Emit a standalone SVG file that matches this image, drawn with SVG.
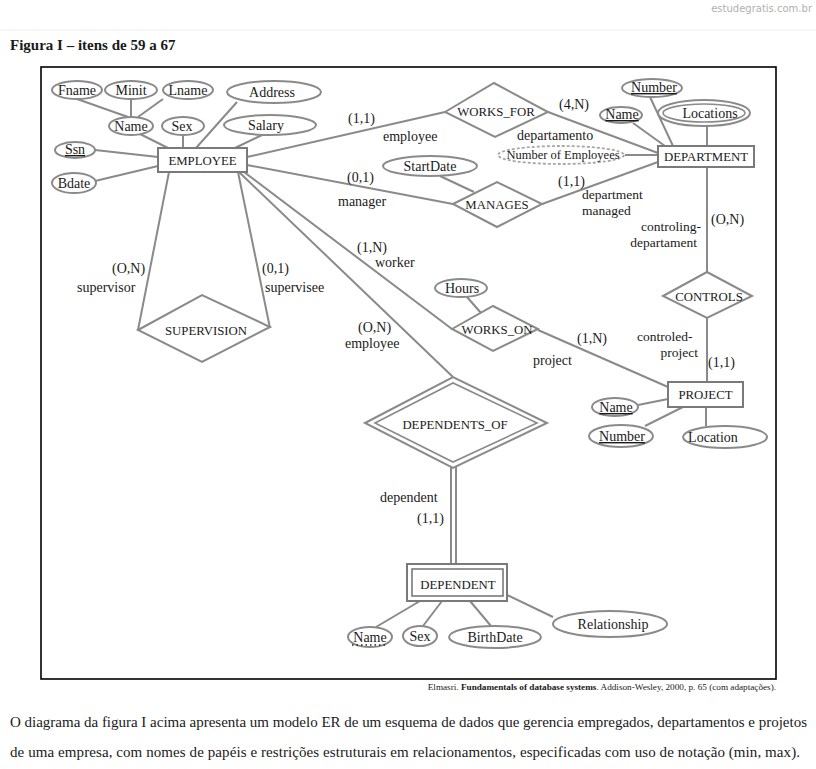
<svg xmlns="http://www.w3.org/2000/svg" width="816" height="769" viewBox="0 0 816 769">
<style>
text{font-family:"Liberation Serif","Times New Roman",serif;fill:#1a1a1a}
.a{font-size:14px;text-anchor:middle}
.e{font-size:12.8px;text-anchor:middle}
.l{font-size:14px}
.s{font-size:13.5px}
.att{fill:#fff;stroke:#8a8a8a;stroke-width:2}
.ent{fill:#fff;stroke:#7a7a7a;stroke-width:2}
.rel{fill:#fff;stroke:#8a8a8a;stroke-width:2}
.c line,.c polyline{stroke:#8a8a8a;stroke-width:2;fill:none}
.u{text-decoration:underline}
</style>
<rect width="816" height="769" fill="#fff"/>
<text x="812" y="12" style="font-family:'DejaVu Sans',sans-serif;font-size:10px;fill:#b0b0b0;text-anchor:end">estudegratis.com.br</text>
<line x1="0" y1="30" x2="816" y2="30" stroke="#eeeeee" stroke-width="1"/>
<text x="10" y="50" style="font-size:15px;font-weight:bold">Figura I – itens de 59 a 67</text>
<rect x="41" y="67" width="735" height="612" fill="none" stroke="#000" stroke-width="1.6"/>

<g class="c" id="connectors">
<line x1="77" y1="99" x2="128" y2="117"/>
<line x1="131" y1="99" x2="131" y2="117"/>
<line x1="163" y1="99" x2="138" y2="117"/>
<line x1="140" y1="134" x2="168" y2="148"/>
<line x1="183" y1="135" x2="183" y2="148"/>
<line x1="237" y1="102" x2="196" y2="148"/>
<line x1="262" y1="135" x2="235" y2="148"/>
<line x1="95" y1="150" x2="158" y2="157"/>
<line x1="95" y1="181" x2="158" y2="166"/>
<line x1="247" y1="157" x2="445" y2="112"/>
<line x1="548" y1="112" x2="658" y2="153"/>
<line x1="247" y1="165" x2="453" y2="204"/>
<line x1="542" y1="204" x2="658" y2="162"/>
<line x1="440" y1="176" x2="474" y2="192"/>
<line x1="650" y1="97" x2="673" y2="146"/>
<line x1="633" y1="123" x2="665" y2="146"/>
<line x1="707" y1="126" x2="707" y2="146"/>
<line x1="625" y1="155" x2="658" y2="155"/>
<line x1="707" y1="167" x2="707" y2="272"/>
<line x1="707" y1="318" x2="707" y2="382"/>
<line x1="169" y1="172" x2="138" y2="330"/>
<line x1="238" y1="172" x2="270" y2="328"/>
<line x1="244" y1="172" x2="452" y2="329"/>
<line x1="239" y1="172" x2="453" y2="377"/>
<line x1="467" y1="297" x2="481" y2="313"/>
<line x1="538" y1="330" x2="668" y2="387"/>
<line x1="638" y1="405" x2="668" y2="399"/>
<line x1="645" y1="426" x2="683" y2="407"/>
<line x1="706" y1="407" x2="706" y2="426"/>
<line x1="451" y1="467" x2="451" y2="564"/>
<line x1="456" y1="467" x2="456" y2="564"/>
<line x1="376" y1="627" x2="420" y2="601"/>
<line x1="423" y1="626" x2="442" y2="601"/>
<line x1="491" y1="626" x2="470" y2="601"/>
<line x1="553" y1="617" x2="507" y2="595"/>
</g>

<g id="employee"><rect class="ent" x="158" y="148" width="89" height="24"/><text class="e" x="202.5" y="165">EMPLOYEE</text></g>
<g id="fname"><ellipse class="att" cx="77" cy="90" rx="25" ry="9"/><text class="a" x="77" y="95">Fname</text></g>
<g id="minit"><ellipse class="att" cx="131" cy="90" rx="26" ry="9"/><text class="a" x="131" y="95">Minit</text></g>
<g id="lname"><ellipse class="att" cx="188" cy="90" rx="25" ry="9"/><text class="a" x="188" y="95">Lname</text></g>
<g id="address"><ellipse class="att" cx="274" cy="92" rx="47" ry="11"/><text class="a" x="272" y="97">Address</text></g>
<g id="ename"><ellipse class="att" cx="131" cy="126" rx="22" ry="9"/><text class="a" x="131" y="131">Name</text></g>
<g id="sex"><ellipse class="att" cx="183" cy="126" rx="21" ry="9"/><text class="a" x="182" y="131">Sex</text></g>
<g id="salary"><ellipse class="att" cx="270" cy="125" rx="46" ry="10"/><text class="a" x="266" y="130">Salary</text></g>
<g id="ssn"><ellipse class="att" cx="75" cy="150" rx="20" ry="8"/><text class="a u" x="75" y="154">Ssn</text></g>
<g id="bdate"><ellipse class="att" cx="74" cy="183" rx="22" ry="10"/><text class="a" x="74" y="188">Bdate</text></g>

<g id="works_for"><polygon class="rel" points="445,112 494,83 548,112 495,137"/><text class="e" x="496" y="116">WORKS_FOR</text></g>
<g id="manages"><polygon class="rel" points="453,204 497,182 542,204 497,227"/><text class="e" x="497" y="209">MANAGES</text></g>
<g id="startdate"><ellipse class="att" cx="430" cy="166" rx="47" ry="10"/><text class="a" x="430" y="171">StartDate</text></g>

<g id="department"><rect class="ent" x="658" y="146" width="96" height="21"/><text class="e" x="706" y="161">DEPARTMENT</text></g>
<g id="dnumber"><ellipse class="att" cx="652" cy="88" rx="30" ry="9"/><text class="a u" x="654" y="92">Number</text></g>
<g id="dname"><ellipse class="att" cx="621" cy="115" rx="21" ry="8"/><text class="a u" x="622" y="119">Name</text></g>
<g id="locations"><ellipse class="att" cx="704" cy="113" rx="46" ry="13"/><ellipse cx="704" cy="113" rx="41" ry="9" fill="none" stroke="#8a8a8a" stroke-width="1.6"/><text class="a" x="710" y="118">Locations</text></g>
<g id="numemp"><ellipse cx="561" cy="155" rx="63" ry="9" fill="#fff" stroke="#a8a8a8" stroke-width="1.8" stroke-dasharray="3 2"/><text x="563" y="159" style="font-size:12.5px;text-anchor:middle">Number of Employees</text></g>

<g id="controls"><polygon class="rel" points="663,296 707,272 752,296 707,318"/><text class="e" x="709" y="301">CONTROLS</text></g>
<g id="project"><rect class="ent" x="668" y="382" width="75" height="25"/><text class="e" x="705.5" y="399">PROJECT</text></g>
<g id="pname"><ellipse class="att" cx="615" cy="407" rx="23" ry="9"/><text class="a u" x="616" y="412">Name</text></g>
<g id="pnumber"><ellipse class="att" cx="621" cy="436" rx="32" ry="11"/><text class="a u" x="622" y="441">Number</text></g>
<g id="plocation"><ellipse class="att" cx="725" cy="437" rx="42" ry="11"/><text class="a" x="713" y="442">Location</text></g>

<g id="works_on"><polygon class="rel" points="452,329 493,306 538,329 493,351"/><text class="e" x="497" y="334">WORKS_ON</text></g>
<g id="hours"><ellipse class="att" cx="461" cy="288" rx="26" ry="9"/><text class="a" x="462" y="293">Hours</text></g>

<g id="supervision"><polygon class="rel" points="138,330 202,295 270,327 202,362"/><text class="e" x="206" y="335">SUPERVISION</text></g>

<g id="dependents_of"><polygon class="rel" points="365,423 453,377 547,423 453,468"/><polygon points="375,423 453,383 537,423 453,462" fill="none" stroke="#8a8a8a" stroke-width="1.6"/><text class="e" x="455" y="429">DEPENDENTS_OF</text></g>
<g id="dependent"><rect class="ent" x="407" y="564" width="100" height="37"/><rect x="412" y="569" width="91" height="27" fill="none" stroke="#7a7a7a" stroke-width="1.6"/><text class="e" x="458" y="589">DEPENDENT</text></g>
<g id="depname"><ellipse class="att" cx="370" cy="637" rx="22" ry="10"/><text class="a" x="370" y="642">Name</text><line x1="352" y1="645" x2="388" y2="645" stroke="#222" stroke-width="1.5" stroke-dasharray="1.5 3"/></g>
<g id="depsex"><ellipse class="att" cx="420" cy="636" rx="17" ry="10"/><text class="a" x="420" y="641">Sex</text></g>
<g id="birthdate"><ellipse class="att" cx="495" cy="637" rx="46" ry="11"/><text class="a" x="495" y="642">BirthDate</text></g>
<g id="relationship"><ellipse class="att" cx="610" cy="624" rx="57" ry="13"/><text class="a" x="613" y="629">Relationship</text></g>

<g id="labels">
<text class="l" x="348" y="123">(1,1)</text>
<text class="l" x="383" y="141">employee</text>
<text class="l" x="559" y="109">(4,N)</text>
<text class="l" x="517" y="140">departamento</text>
<text class="l" x="347" y="182">(0,1)</text>
<text class="l" x="338" y="206">manager</text>
<text class="l" x="558" y="186">(1,1)</text>
<text class="s" x="582" y="199">department</text>
<text class="s" x="582" y="215">managed</text>
<text class="l" x="711" y="224">(O,N)</text>
<text class="s" x="701" y="231" style="text-anchor:end">controling-</text>
<text class="s" x="697" y="247" style="text-anchor:end">departament</text>
<text class="s" x="637" y="341">controled-</text>
<text class="s" x="698" y="357" style="text-anchor:end">project</text>
<text class="l" x="708" y="367">(1,1)</text>
<text class="l" x="577" y="343">(1,N)</text>
<text class="l" x="533" y="365">project</text>
<text class="l" x="357" y="252">(1,N)</text>
<text class="l" x="375" y="267">worker</text>
<text class="l" x="358" y="332">(O,N)</text>
<text class="l" x="345" y="348">employee</text>
<text class="l" x="112" y="273">(O,N)</text>
<text class="l" x="77" y="292">supervisor</text>
<text class="l" x="262" y="273">(0,1)</text>
<text class="l" x="265" y="292">supervisee</text>
<text class="l" x="380" y="502">dependent</text>
<text class="l" x="417" y="523">(1,1)</text>
</g>

<text x="776" y="690" style="font-size:9.2px;text-anchor:end">Elmasri. <tspan font-weight="bold">Fundamentals of database systems</tspan>. Addison-Wesley, 2000, p. 65 (com adaptações).</text>
<text x="10" y="727" style="font-size:15px" textLength="797" lengthAdjust="spacing">O diagrama da figura I acima apresenta um modelo ER de um esquema de dados que gerencia empregados, departamentos e projetos</text>
<text x="10" y="757" style="font-size:15px" textLength="790" lengthAdjust="spacing">de uma empresa, com nomes de papéis e restrições estruturais em relacionamentos, especificadas com uso de notação (min, max).</text>
</svg>
